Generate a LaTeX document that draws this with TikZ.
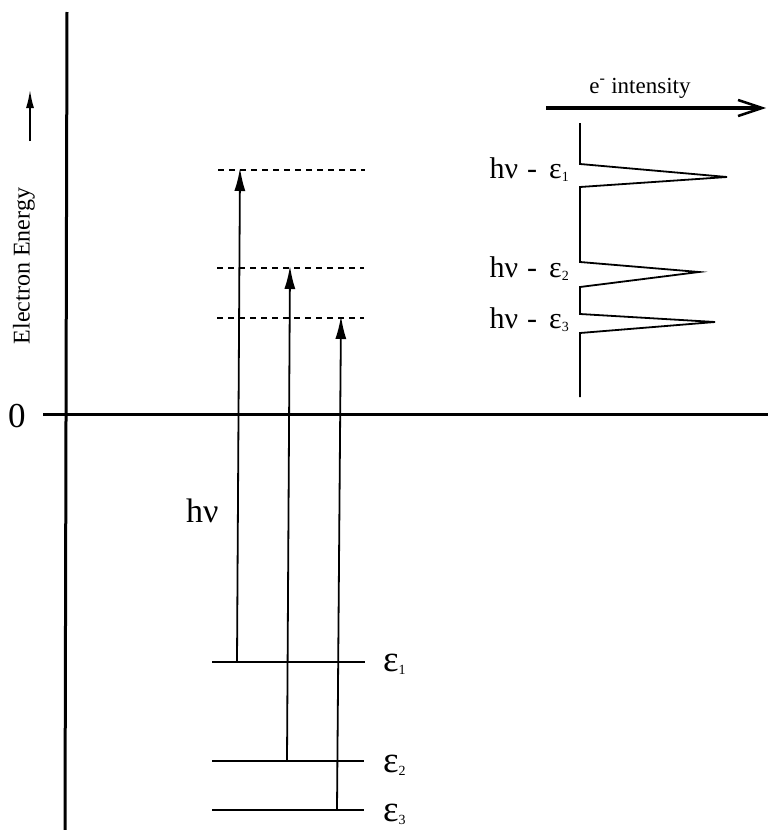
\documentclass[tikz,border=0pt]{standalone}
\usepackage{fontspec}
\setmainfont{Liberation Serif}
\usetikzlibrary{arrows.meta}
\newcommand{\mysub}[1]{\raisebox{-0.1em}{\fontsize{14}{14}\selectfont #1}}
\begin{document}
\begin{tikzpicture}[x=1pt,y=-1pt,
  axis/.style={line width=3pt},
  level/.style={line width=1.3pt},
  dashlevel/.style={line width=1.2pt,dash pattern=on 6pt off 5pt},
  excite/.style={line width=1.8pt,-{Latex[length=23pt,width=11pt]}},
  spec/.style={line width=1.8pt,line join=miter},
  lbl/.style={inner sep=0pt,font=\fontsize{30}{34}\selectfont},
  elbl/.style={inner sep=0pt,font=\fontsize{37}{40}\selectfont,anchor=base west}]
\useasboundingbox (0,0) rectangle (768,830);
% axes
\coordinate (vtop) at (67,12);
\coordinate (vbot) at (65,830);
\coordinate (hleft) at (43,414);
\coordinate (hright) at (768,414);
\draw[axis] (vtop) -- (vbot);
\draw[axis] (hleft) -- (hright);
\node[inner sep=0pt,anchor=base,font=\fontsize{35}{38}\selectfont] (zero) at (17,427) {0};
\node[inner sep=0pt,rotate=90,font=\fontsize{24}{28}\selectfont] (eaxis) at (24,266) {Electron Energy};
\coordinate (ua) at (30,141);
\coordinate (ub) at (30,90);
\draw[line width=1.6pt,-{Latex[length=18pt,width=8pt]}] (ua) -- (ub);
% dashed final levels
\coordinate (d1l) at (218,170); \coordinate (d1r) at (365,170);
\coordinate (d2l) at (217,268); \coordinate (d2r) at (364,268);
\coordinate (d3l) at (217,318); \coordinate (d3r) at (364,318);
\draw[dashlevel] (d1l) -- (d1r);
\draw[dashlevel] (d2l) -- (d2r);
\draw[dashlevel] (d3l) -- (d3r);
% core levels
\coordinate (l1l) at (212,662); \coordinate (l1r) at (365,662);
\coordinate (l2l) at (212,761); \coordinate (l2r) at (364,761);
\coordinate (l3l) at (212,810); \coordinate (l3r) at (364,810);
\draw[level] (l1l) -- (l1r);
\draw[level] (l2l) -- (l2r);
\draw[level] (l3l) -- (l3r);
\node[elbl] (eps1) at (383,671) {ε\mysub{1}};
\node[elbl] (eps2) at (383,772) {ε\mysub{2}};
\node[elbl] (eps3) at (383,821) {ε\mysub{3}};
% excitation arrows
\coordinate (a1b) at (237,662); \coordinate (a1t) at (240,168);
\coordinate (a2b) at (287,761); \coordinate (a2t) at (290,266);
\coordinate (a3b) at (337,810); \coordinate (a3t) at (341,316);
\draw[excite] (a1b) -- (a1t);
\draw[excite] (a2b) -- (a2t);
\draw[excite] (a3b) -- (a3t);
\node[inner sep=0pt,anchor=base west,font=\fontsize{34}{38}\selectfont] (hnu) at (186,522) {hν};
% intensity axis
\coordinate (ia) at (546,108);
\coordinate (ib) at (766,108);
\draw[line width=3.5pt,-{Straight Barb[length=24pt,width=16pt,line width=2.5pt]}] (ia) -- (ib);
\node[inner sep=0pt,anchor=base,font=\fontsize{23}{25}\selectfont] (intens) at (640,93) {e\textsuperscript{-} intensity};
% spectrum
\coordinate (s0) at (580,123);
\coordinate (p1a) at (580,164); \coordinate (p1) at (727,177); \coordinate (p1b) at (580,187);
\coordinate (p2a) at (580,262); \coordinate (p2) at (699,272); \coordinate (p2b) at (580,287);
\coordinate (p3a) at (580,314); \coordinate (p3) at (715,322); \coordinate (p3b) at (580,333);
\coordinate (s1) at (580,397);
\draw[spec] (s0) -- (p1a) -- (p1) -- (p1b) -- (p2a) -- (p2) -- (p2b) -- (p3a) -- (p3) -- (p3b) -- (s1);
\node[lbl,anchor=base east] (k1) at (569,178) {hν\hspace{9pt}-\hspace{12pt}ε\mysub{1}};
\node[lbl,anchor=base east] (k2) at (569,277) {hν\hspace{9pt}-\hspace{12pt}ε\mysub{2}};
\node[lbl,anchor=base east] (k3) at (569,328) {hν\hspace{9pt}-\hspace{12pt}ε\mysub{3}};
\end{tikzpicture}
\end{document}
